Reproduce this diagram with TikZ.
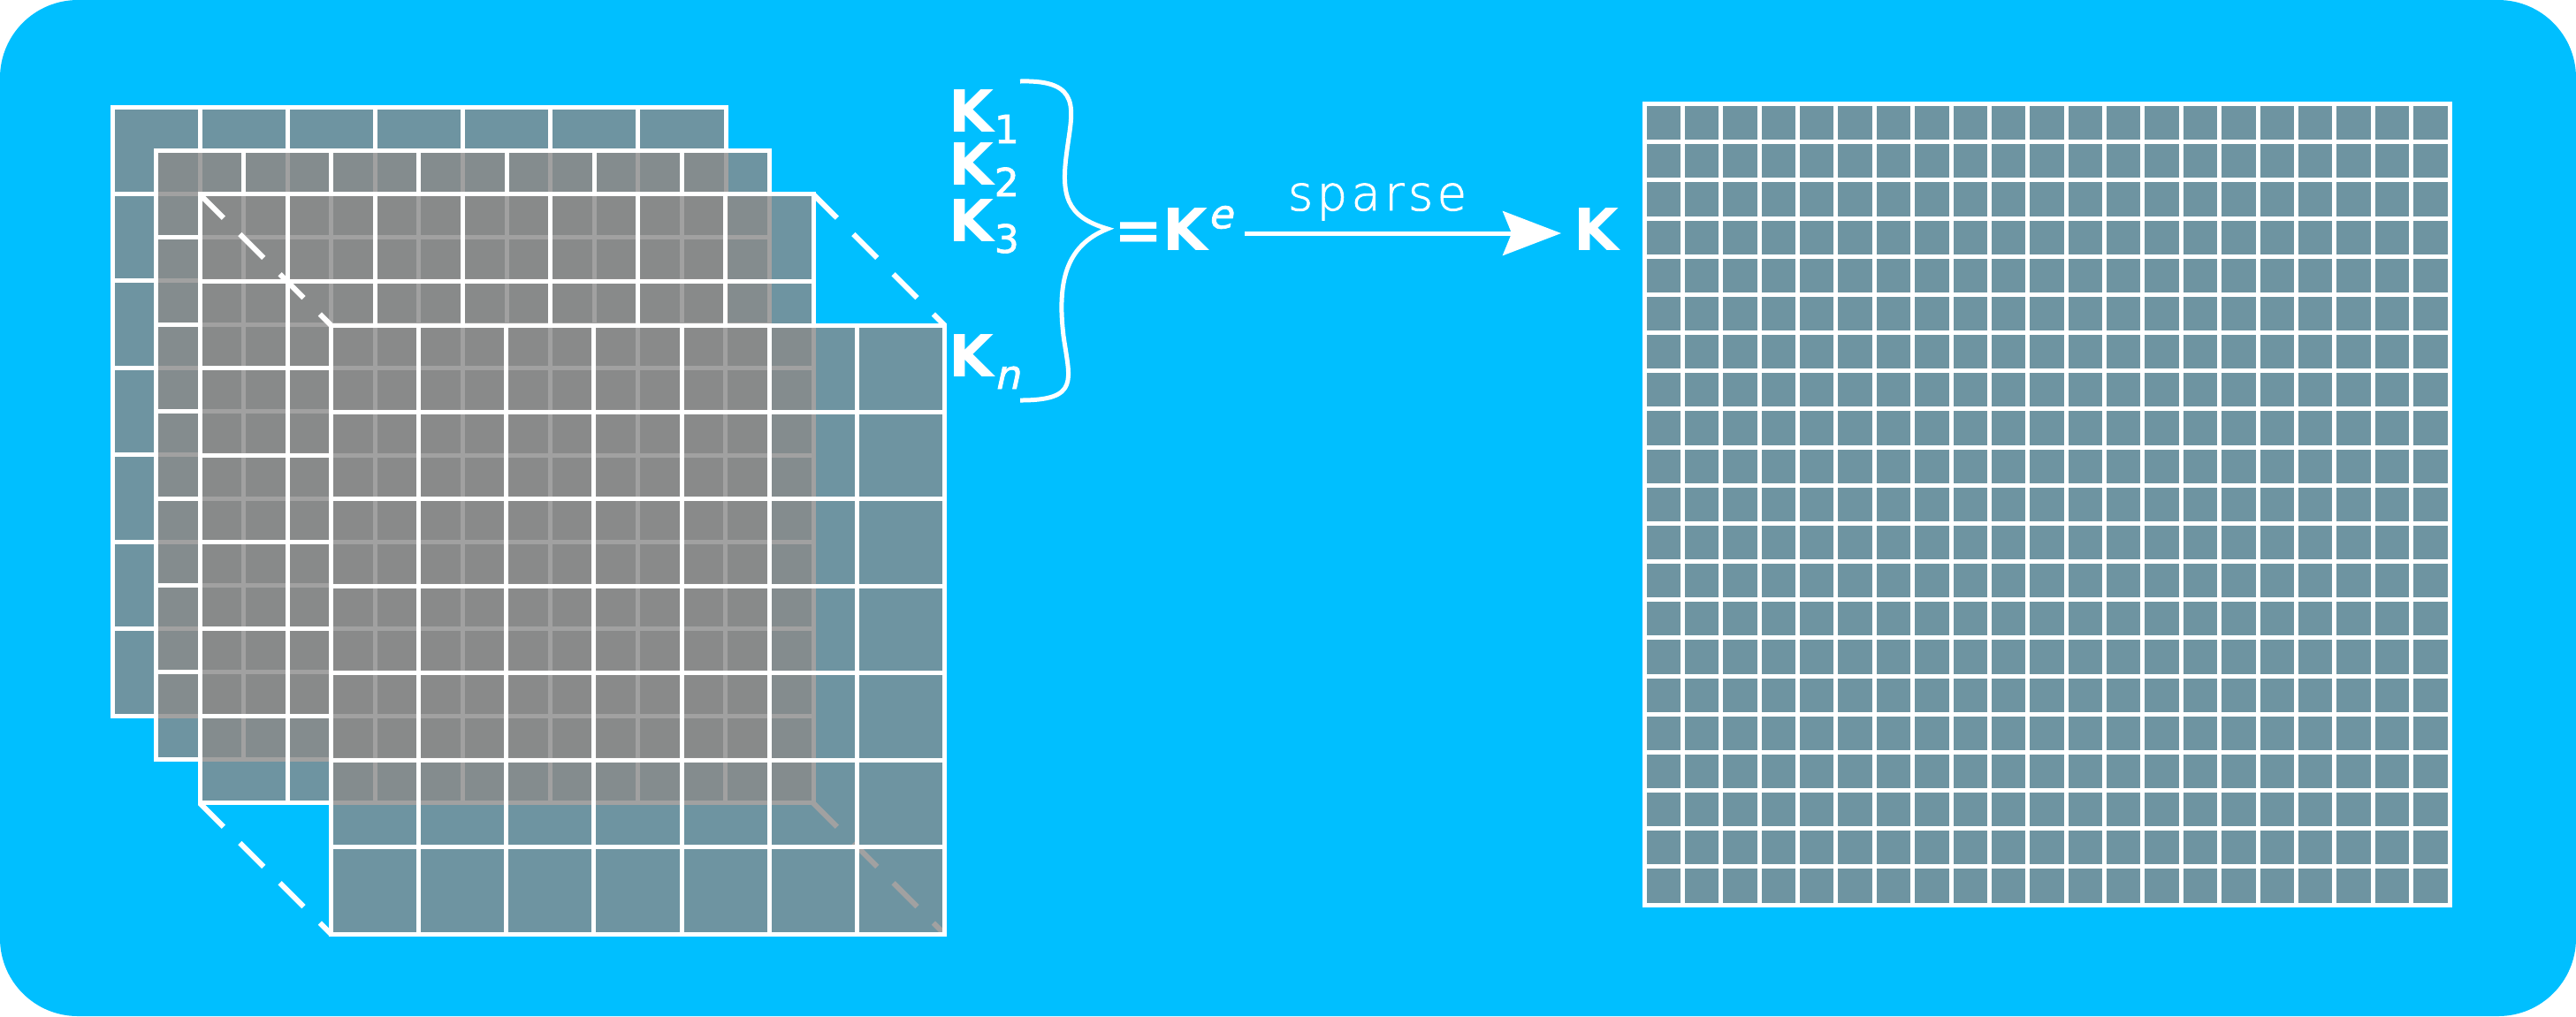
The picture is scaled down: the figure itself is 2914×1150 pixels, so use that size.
\documentclass[tikz,border=0pt]{standalone}
\usepackage{fontspec}
\usetikzlibrary{arrows.meta}
\setmainfont{DejaVu Sans}
\IfFontExistsTF{DejaVu Sans ExtraLight}{%
  \newfontfamily\thinfam{DejaVu Sans ExtraLight}[FakeBold=1.6]%
  \newfontfamily\thinitfam{DejaVu Sans ExtraLight}[FakeSlant=0.22,FakeBold=1.6]%
}{%
  \newfontfamily\thinfam{DejaVu Sans}%
  \newfontfamily\thinitfam{DejaVu Sans Oblique}%
}
\definecolor{bgblue}{HTML}{00BFFF}
\definecolor{matgray}{HTML}{8A8A8A}
\tikzset{
  matfill/.style={fill=matgray, fill opacity=0.8},
  gridline/.style={draw=white, line width=1.25pt},
  dashline/.style={draw=white, line width=1.5pt, dash pattern=on 9.5pt off 6.5pt},
  klabel/.style={anchor=base west, inner sep=0pt, text=white, font=\fontsize{16.45pt}{20pt}\selectfont\bfseries},
}
\newcommand\kfsub{\thinfam\fontsize{11pt}{13pt}\selectfont}
\newcommand\kfsubit{\thinitfam\fontsize{11.3pt}{13pt}\selectfont}
\newcommand\drawmat[6]{%
  \fill[matfill] (#1,#2) rectangle ++(#3,#4);
  \pgfmathtruncatemacro\nxm{#5-1}%
  \pgfmathtruncatemacro\nym{#6-1}%
  \pgfmathsetmacro\cwd{#3/#5}%
  \pgfmathsetmacro\cht{#4/#6}%
  \foreach \i in {1,...,\nxm}{\draw[gridline] ({#1+\cwd*\i},#2) -- ++(0,#4);}
  \foreach \j in {1,...,\nym}{\draw[gridline] (#1,{#2+\cht*\j}) -- ++(#3,0);}
  \draw[gridline] (#1,#2) rectangle ++(#3,#4);
}
\begin{document}
\begin{tikzpicture}[x=0.25pt,y=-0.25pt]
\useasboundingbox (0,0) rectangle (2914,1150);
\fill[bgblue, rounded corners=22pt] (0,0) rectangle (2914,1150);

% stack of element matrices
\drawmat{127}{121}{694}{689}{7}{7}
\drawmat{176.5}{170.4}{694}{689}{7}{7}
\drawmat{226}{219.8}{694}{689}{7}{7}
\coordinate (m3tl) at (226,219.8);
\coordinate (m3tr) at (920,219.8);
\coordinate (m3bl) at (226,908.8);
\coordinate (m3br) at (920,908.8);
\coordinate (mntl) at (374.5,368);
\coordinate (mntr) at (1068.5,368);
\coordinate (mnbl) at (374.5,1057);
\coordinate (mnbr) at (1068.5,1057);
\draw[dashline] (m3tl) -- (mntl);
\draw[dashline] (m3tr) -- (mntr);
\draw[dashline] (m3bl) -- (mnbl);
\draw[dashline] (m3br) -- (mnbr);
\drawmat{374.5}{368}{694}{689}{7}{7}

% global matrix
\drawmat{1860}{117.5}{911}{906.5}{21}{21}

% labels
\node[klabel] (k1) at (1073,149) {K\raisebox{-3.25pt}{\kfsub 1}};
\node[klabel] (k2) at (1073,209) {K\raisebox{-3.25pt}{\kfsub 2}};
\node[klabel] (k3) at (1073,273) {K\raisebox{-3.25pt}{\kfsub 3}};
\node[klabel] (kn) at (1073,426) {K\raisebox{-3.5pt}{\kfsubit n}};
\node[klabel] (ke) at (1259.5,283.5) {=K\raisebox{6.3pt}{\kfsubit e}};
\node[klabel] (kr) at (1780,283) {K};
\node[anchor=base, inner sep=0pt, text=white, font=\thinfam\fontsize{13.6pt}{16pt}\selectfont\addfontfeature{LetterSpace=8}] (sp) at (1558,238) {sparse};

% brace
\draw[white, line width=1.25pt]
  (1154,92) .. controls (1225,90) and (1213,125) .. (1207,170)
  .. controls (1200,220) and (1205,245) .. (1253,259)
  .. controls (1205,278) and (1196,320) .. (1203,380)
  .. controls (1210,430) and (1222,453) .. (1154,453);

% arrow
\coordinate (as) at (1408,264);
\coordinate (ae) at (1766,264);
\draw[white, line width=1.25pt, -{Stealth[length=16.5pt,width=12.5pt,inset=2.5pt]}] (as) -- (ae);
\end{tikzpicture}
\end{document}
